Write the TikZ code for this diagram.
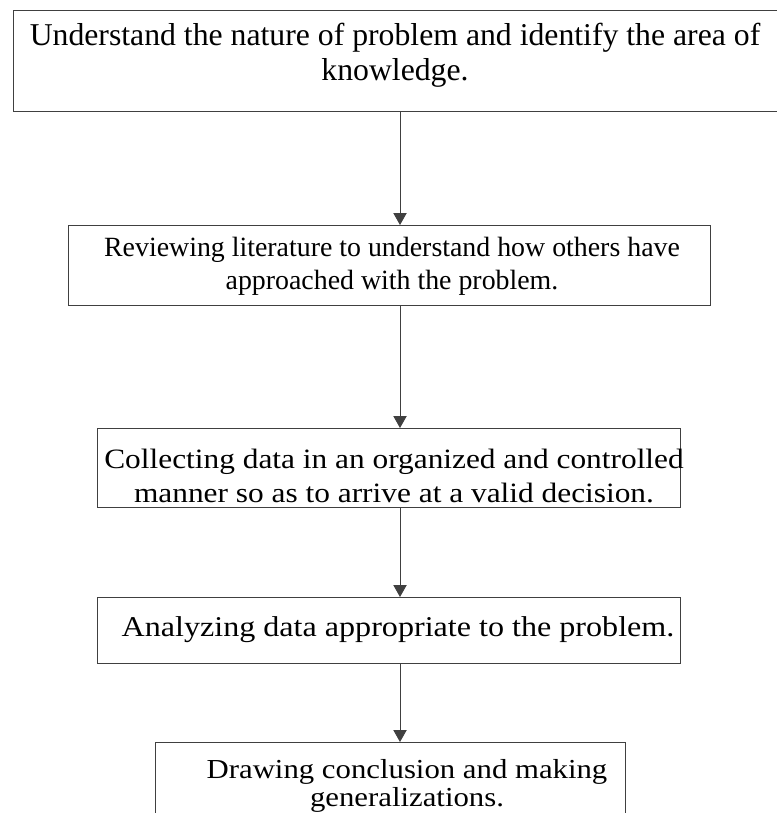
\documentclass[tikz,border=0pt]{standalone}
\usepackage{fontspec}
\setmainfont{Liberation Serif}
\newfontfamily\widefont[FakeStretch=1.12]{Liberation Serif}
\usetikzlibrary{arrows.meta}
\tikzset{
  stepbox/.style={draw=black!75, line width=0.9pt, rectangle, inner sep=0pt, align=center, anchor=north west},
  flowarrow/.style={draw=black!75, line width=0.7pt, -{Triangle[width=10pt,length=9pt]}}
}
\begin{document}
\begin{tikzpicture}[x=0.75pt,y=-0.75pt]
\useasboundingbox (0,0) rectangle (777,813);
\clip (0,0) rectangle (777,813);
% box 1
\node[stepbox, minimum width=780*0.75pt, minimum height=101*0.75pt] (b1) at (13,10) {};
\node[font=\fontsize{23.8}{26.3}\selectfont, align=center] (t1) at (395,55) {Understand the nature of problem and identify the area of\\knowledge.};
% box 2
\node[stepbox, minimum width=642*0.75pt, minimum height=80*0.75pt] (b2) at (68,225) {};
\node[font=\fontsize{20.9}{24.8}\selectfont, align=center] (t2) at (392,266) {Reviewing literature to understand how others have\\approached with the problem.};
% box 3
\node[stepbox, minimum width=583*0.75pt, minimum height=79*0.75pt] (b3) at (97,428) {};
\node[font=\widefont\fontsize{21}{24.8}\selectfont, align=center] (t3) at (394,476) {Collecting data in an organized and controlled\\manner so as to arrive at a valid decision.};
% box 4
\node[stepbox, minimum width=583*0.75pt, minimum height=66*0.75pt] (b4) at (97,597) {};
\node[font=\widefont\fontsize{21.5}{25}\selectfont, align=center] (t4) at (398,630) {Analyzing data appropriate to the problem.};
% box 5
\node[stepbox, minimum width=470*0.75pt, minimum height=100*0.75pt] (b5) at (155,742) {};
\node[font=\widefont\fontsize{20.6}{21}\selectfont, align=center] (t5) at (407,786) {Drawing conclusion and making\\generalizations.};
% arrows
\coordinate (ax) at (400,0);
\draw[flowarrow] (b1.south -| ax) -- (b2.north -| ax);
\draw[flowarrow] (b2.south -| ax) -- (b3.north -| ax);
\draw[flowarrow] (b3.south -| ax) -- (b4.north -| ax);
\draw[flowarrow] (b4.south -| ax) -- (b5.north -| ax);
\end{tikzpicture}
\end{document}
